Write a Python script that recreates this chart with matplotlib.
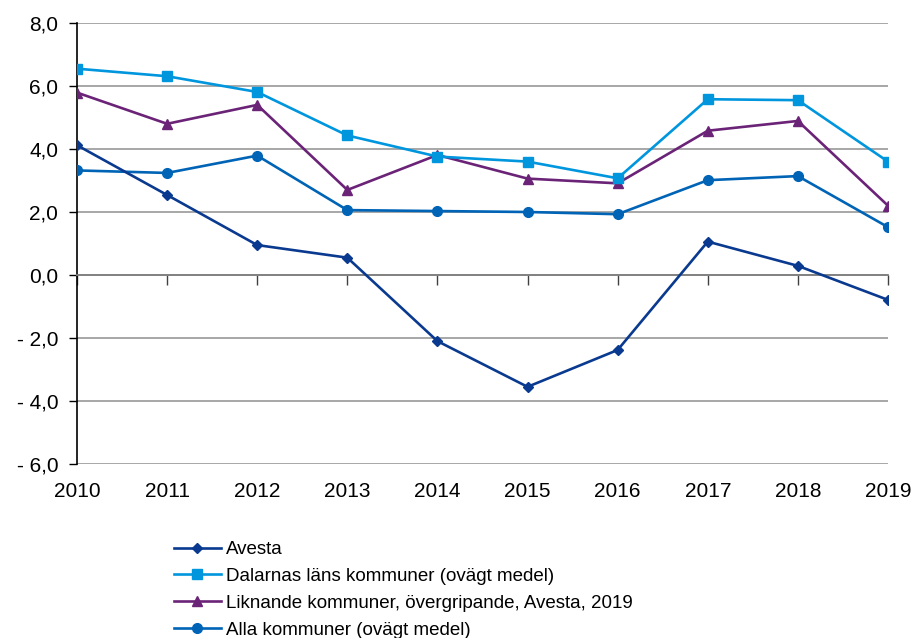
import matplotlib
matplotlib.use("Agg")
import matplotlib.pyplot as plt
from matplotlib.ticker import FuncFormatter

plt.rcParams['font.family'] = ['Liberation Sans', 'DejaVu Sans']

years = [2010, 2011, 2012, 2013, 2014, 2015, 2016, 2017, 2018, 2019]
avesta = [4.12, 2.54, 0.95, 0.55, -2.10, -3.55, -2.38, 1.06, 0.29, -0.79]
dalarna = [6.55, 6.31, 5.81, 4.43, 3.76, 3.60, 3.07, 5.58, 5.55, 3.60]
liknande = [5.79, 4.80, 5.40, 2.70, 3.81, 3.06, 2.91, 4.58, 4.89, 2.20]
alla = [3.32, 3.24, 3.79, 2.06, 2.03, 2.00, 1.93, 3.01, 3.14, 1.52]

labels = ["Avesta",
          "Dalarnas läns kommuner (ovägt medel)",
          "Liknande kommuner, övergripande, Avesta, 2019",
          "Alla kommuner (ovägt medel)"]
colors = ["#0A3A8F", "#0096DE", "#6B2377", "#0064B6"]

fig = plt.figure(figsize=(9.15, 6.38), dpi=100)
ax = fig.add_axes([77/915, 1-464/638, (888-77)/915, (464-23)/638])

ax.plot(years, avesta, color=colors[0], lw=1.9, marker='D', ms=5, label=labels[0], zorder=5)
ax.plot(years, dalarna, color=colors[1], lw=1.9, marker='s', ms=7, label=labels[1], zorder=4)
ax.plot(years, liknande, color=colors[2], lw=1.9, marker='^', ms=7, label=labels[2], zorder=3)
ax.plot(years, alla, color=colors[3], lw=1.9, marker='o', ms=7, label=labels[3], zorder=4)

ax.set_xlim(2010, 2019)
ax.set_ylim(-6, 8)
ax.set_yticks([-6, -4, -2, 0, 2, 4, 6, 8])

def yfmt(v, pos):
    s = f"{abs(v):.1f}".replace('.', ',')
    return ("- " + s) if v < 0 else s
ax.yaxis.set_major_formatter(FuncFormatter(yfmt))

ax.yaxis.grid(True, color='#A0A0A0', lw=1.3)
ax.set_axisbelow(True)
for s in ['top', 'right']:
    ax.spines[s].set_visible(False)
ax.spines['left'].set_color('black')
ax.spines['left'].set_linewidth(1.2)
ax.spines['bottom'].set_position(('data', 0))
ax.spines['bottom'].set_color('#808080')
ax.spines['bottom'].set_linewidth(1.3)
ax.tick_params(axis='y', direction='out', length=6, width=1.0, labelsize=15, pad=7.5)
ax.set_xticks(years)
ax.tick_params(axis='x', direction='out', length=7, width=1.0, color='#404040', labelbottom=False)

sec = ax.secondary_xaxis('bottom')
sec.set_xticks(years)
sec.set_xticklabels([str(y) for y in years])
sec.tick_params(length=0, labelsize=15, pad=13)
sec.spines['bottom'].set_visible(False)

fig.legend(loc='upper left', bbox_to_anchor=(174/915, 1-541/638), frameon=False,
           fontsize=13.5, handlelength=2.5, handletextpad=0.25, labelspacing=0.52,
           borderaxespad=0, borderpad=0)

fig.savefig("out.png", dpi=100)
